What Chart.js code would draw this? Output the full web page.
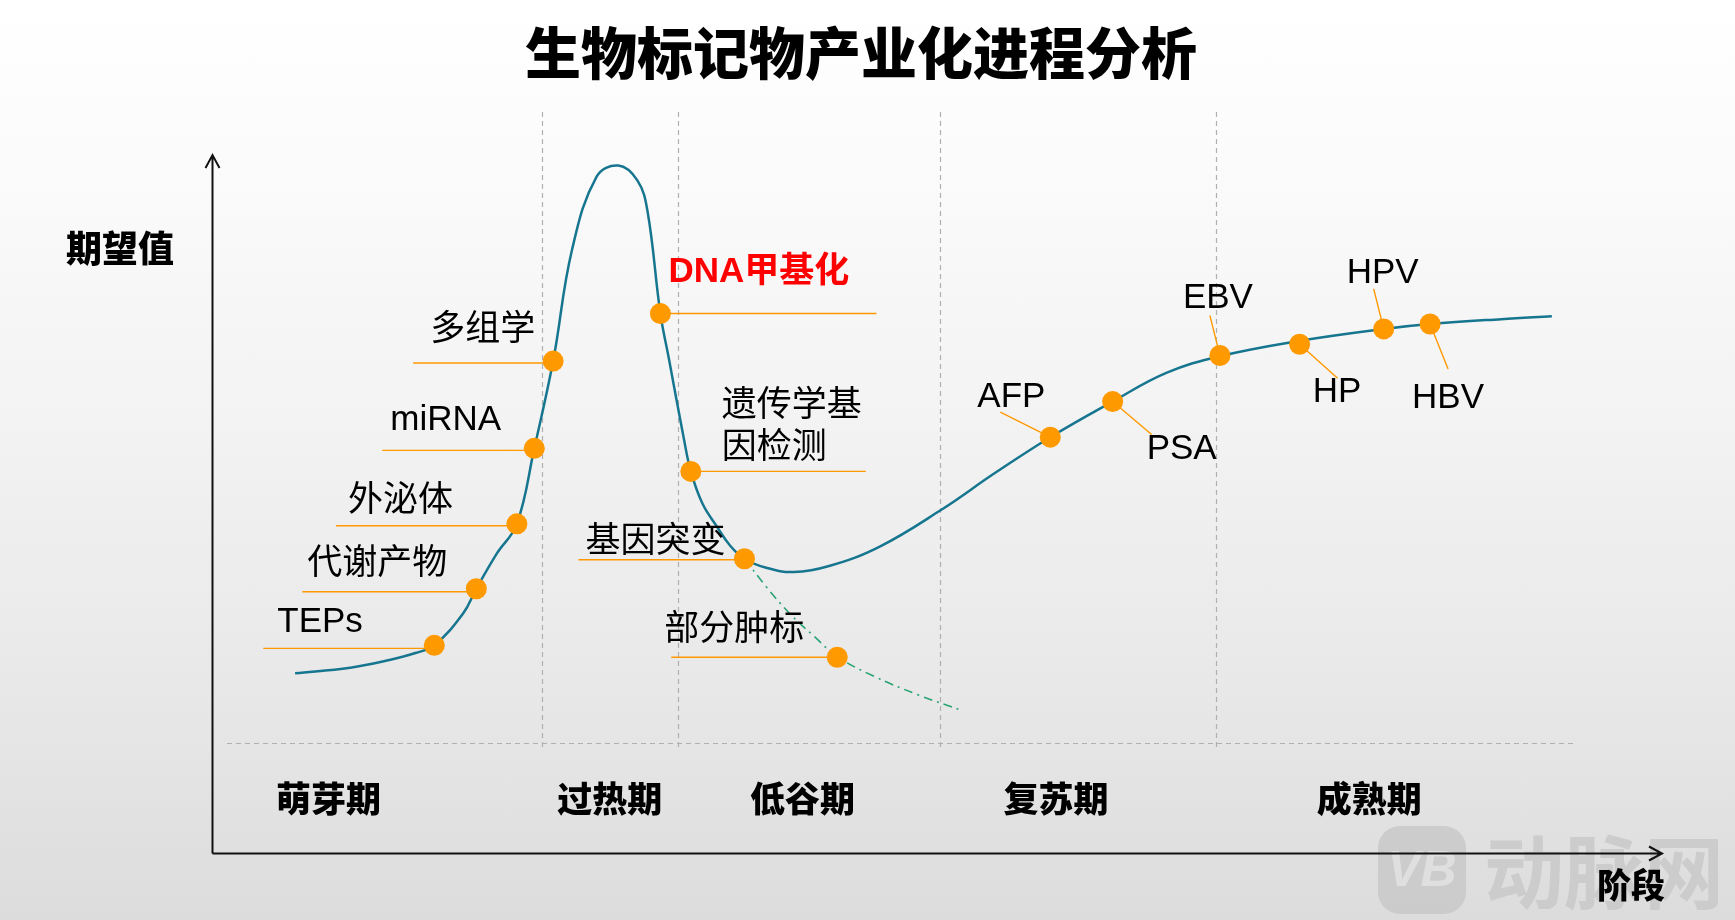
<!DOCTYPE html>
<html>
<head>
<meta charset="utf-8">
<script src="https://cdn.jsdelivr.net/npm/chart.js@4.4.1/dist/chart.umd.min.js"></script>
<style>
  html, body { margin: 0; padding: 0; overflow: hidden; }
  body {
    width: 1735px; height: 920px;
    background: linear-gradient(to bottom, #ffffff 0%, #fcfcfc 14%, #f3f3f3 45%, #e8e8e8 75%, #dcdcdc 100%);
  }
  canvas { display: block; }
</style>
</head>
<body>
<canvas id="hype" width="1735" height="920"></canvas>
<script>
// hype-cycle curve (x = stage progress, y = expectation)
const curveX = [5.7, 9.5, 12.2, 14.0, 15.3, 17.3, 18.2, 19.6, 21.0, 22.2, 23.5, 24.8, 26.5, 28.0,
  29.3, 30.0, 30.9, 31.5, 32.5, 33.0, 33.8, 34.8, 35.7, 36.7, 38.2, 40.1, 42.6, 46.0, 50.2, 54.0, 57.8,
  62.1, 65.8, 69.5, 75.0, 80.8, 84.0, 88.9, 92.4];
const curveY = [25.8, 26.6, 27.7, 28.7, 29.8, 34.4, 37.9, 42.9, 47.2, 58.0, 70.5, 86.4, 96.9, 98.5,
  96.4, 92.1, 77.3, 70.7, 59.6, 54.7, 50.1, 46.8, 44.1, 42.2, 40.9, 40.3, 41.2, 43.9, 49.1, 54.5, 59.6,
  64.7, 68.8, 71.2, 73.4, 75.1, 75.8, 76.5, 76.9];

// dash-dot branch falling away after 基因突变
const branchX = [36.7, 38.2, 39.8, 41.5, 43.1, 45.6, 48.7, 51.8];
const branchY = [42.2, 38.2, 34.4, 31.1, 28.2, 25.4, 22.7, 20.4];

// biomarkers on the curve
const markerNames = ["TEPs", "代谢产物", "外泌体", "miRNA", "多组学", "DNA甲基化", "遗传学基\n因检测", "基因突变",
  "部分肿标", "AFP", "PSA", "EBV", "HP", "HPV", "HBV"];
const markerX = [15.3, 18.2, 21.0, 22.2, 23.5, 30.9, 33.0, 36.7, 43.1, 57.8, 62.1, 69.5, 75.0, 80.8, 84.0];
const markerY = [29.8, 37.9, 47.2, 58.0, 70.5, 77.3, 54.7, 42.2, 28.1, 59.6, 64.7, 71.3, 72.9, 75.1, 75.8];

// stages
const phaseNames = ["萌芽期", "过热期", "低谷期", "复苏期", "成熟期"];
const phaseCenters = [8.0, 27.4, 40.7, 58.2, 79.8];
const phaseBounds = [22.7, 32.1, 50.2, 69.2];
const baselineY = 15.8;
const phaseLabelY = 7.9;

const chartTitle = "生物标记物产业化进程分析";
const yTitle = "期望值";
const xTitle = "阶段";

// label placement, px offsets from each marker: text anchor + leader line
const labelLayout = [
  { tx: -157, ty: -23, line: [-171, 3, 0, 3] },
  { tx: -169, ty: -24, line: [-174, 3, 0, 3] },
  { tx: -169, ty: -22, line: [-181, 2, 0, 2] },
  { tx: -144, ty: -28, line: [-152, 2, 0, 2] },
  { tx: -123, ty: -31, line: [-140, 2, 0, 2] },
  { tx: 8, ty: -41, line: [0, 0, 216, 0], hot: true },
  { tx: 31, ty: -65, line: [0, 0, 175, 0] },
  { tx: -159, ty: -16, line: [-166, 1, 0, 1] },
  { tx: -173, ty: -27, line: [-166, 0, 0, 0] },
  { tx: -73, ty: -40, line: [-50, -25, 0, 0] },
  { tx: 34, ty: 48, line: [0, 0, 39, 33] },
  { tx: -37, ty: -57, line: [-10, -40, 0, 0] },
  { tx: 13, ty: 48, line: [0, 0, 38, 34] },
  { tx: -37, ty: -56, line: [-10, -40, 0, 0] },
  { tx: -18, ty: 74, line: [0, 0, 18, 45] }
];

const ORANGE = "#ff9900";
const TEAL = "#17768f";
const LABEL_FONT = '35px "Liberation Sans", "Noto Sans CJK SC", sans-serif';
const BOLD_CJK = '"Noto Sans CJK SC", "Liberation Sans", sans-serif';
const BOLD_MIX = '"Liberation Sans", "Noto Sans CJK SC", sans-serif';

function toPoints(xs, ys) {
  return xs.map((x, i) => ({ x: x, y: ys[i] }));
}

const decorations = {
  id: "decorations",
  beforeDatasetsDraw(chart) {
    const ctx = chart.ctx;
    const area = chart.chartArea;
    const xs = chart.scales.x;
    const ys = chart.scales.y;
    const baseY = ys.getPixelForValue(baselineY);

    ctx.save();
    // watermark
    ctx.globalAlpha = 0.75;
    ctx.fillStyle = "#c6c6c6";
    ctx.beginPath();
    ctx.roundRect(1378, 826, 88, 88, 22);
    ctx.fill();
    ctx.fillStyle = "#e6e6e6";
    ctx.font = 'italic bold 50px "Liberation Sans", sans-serif';
    ctx.textAlign = "center";
    ctx.textBaseline = "middle";
    ctx.fillText("VB", 1422, 872);
    ctx.fillStyle = "#c6c6c6";
    ctx.font = "bold 80px " + BOLD_CJK;
    ctx.textAlign = "left";
    ctx.fillText("动脉网", 1484, 872);
    ctx.globalAlpha = 1;

    // stage dividers
    ctx.strokeStyle = "#b0b0b0";
    ctx.lineWidth = 1.2;
    ctx.setLineDash([5, 4]);
    phaseBounds.forEach((b) => {
      const px = Math.round(xs.getPixelForValue(b)) + 0.5;
      ctx.beginPath();
      ctx.moveTo(px, area.top - 43);
      ctx.lineTo(px, baseY + 6);
      ctx.stroke();
    });
    ctx.beginPath();
    ctx.moveTo(xs.getPixelForValue(1.0), Math.round(baseY) + 0.5);
    ctx.lineTo(xs.getPixelForValue(93.9), Math.round(baseY) + 0.5);
    ctx.stroke();
    ctx.setLineDash([]);

    // axes with open arrow heads
    ctx.strokeStyle = "#111";
    ctx.lineWidth = 2;
    ctx.beginPath();
    ctx.moveTo(area.left, area.bottom);
    ctx.lineTo(area.left, area.top);
    ctx.moveTo(area.left - 7, area.top + 13);
    ctx.lineTo(area.left, area.top);
    ctx.lineTo(area.left + 7, area.top + 13);
    ctx.moveTo(area.left, area.bottom);
    ctx.lineTo(area.right, area.bottom);
    ctx.moveTo(area.right - 13, area.bottom - 7);
    ctx.lineTo(area.right, area.bottom);
    ctx.lineTo(area.right - 13, area.bottom + 7);
    ctx.stroke();

    // leader lines
    ctx.strokeStyle = ORANGE;
    ctx.lineWidth = 1.4;
    markerX.forEach((mx, i) => {
      const px = xs.getPixelForValue(mx);
      const py = ys.getPixelForValue(markerY[i]);
      const l = labelLayout[i].line;
      ctx.beginPath();
      ctx.moveTo(px + l[0], py + l[1]);
      ctx.lineTo(px + l[2], py + l[3]);
      ctx.stroke();
    });
    ctx.restore();
  },
  afterDatasetsDraw(chart) {
    const ctx = chart.ctx;
    const xs = chart.scales.x;
    const ys = chart.scales.y;

    ctx.save();
    ctx.textBaseline = "middle";

    // marker labels
    markerNames.forEach((name, i) => {
      const lay = labelLayout[i];
      const px = xs.getPixelForValue(markerX[i]);
      const py = ys.getPixelForValue(markerY[i]);
      ctx.textAlign = "left";
      if (lay.hot) {
        ctx.fillStyle = "#ff0000";
        ctx.font = "bold 35px " + BOLD_MIX;
      } else {
        ctx.fillStyle = "#000";
        ctx.font = LABEL_FONT;
      }
      name.split("\n").forEach((line, k) => {
        ctx.fillText(line, px + lay.tx, py + lay.ty + k * 42);
      });
    });

    // stage names
    ctx.fillStyle = "#000";
    ctx.font = "900 35px " + BOLD_CJK;
    ctx.textAlign = "center";
    const labelPy = ys.getPixelForValue(phaseLabelY);
    phaseNames.forEach((p, i) => {
      ctx.fillText(p, xs.getPixelForValue(phaseCenters[i]), labelPy);
    });

    // titles
    ctx.font = "900 36px " + BOLD_CJK;
    ctx.fillText(yTitle, 120, 248);
    ctx.font = "900 34px " + BOLD_CJK;
    ctx.fillText(xTitle, 1631, 885);
    ctx.font = "900 56px " + BOLD_CJK;
    ctx.fillText(chartTitle, 861, 53);
    ctx.restore();
  }
};

new Chart(document.getElementById("hype"), {
  type: "scatter",
  data: {
    datasets: [
      {
        label: "markers",
        data: toPoints(markerX, markerY),
        pointRadius: 10.5,
        pointHoverRadius: 10.5,
        backgroundColor: ORANGE,
        borderWidth: 0,
        order: 0
      },
      {
        type: "line",
        label: "curve",
        data: toPoints(curveX, curveY),
        borderColor: TEAL,
        borderWidth: 2.5,
        pointRadius: 0,
        tension: 0.4,
        fill: false,
        order: 1
      },
      {
        type: "line",
        label: "branch",
        data: toPoints(branchX, branchY),
        borderColor: "#2aa373",
        borderWidth: 1.6,
        borderDash: [9, 5, 2, 5],
        pointRadius: 0,
        tension: 0.4,
        fill: false,
        order: 2
      }
    ]
  },
  options: {
    responsive: false,
    devicePixelRatio: 1,
    animation: false,
    layout: { padding: { left: 212.5, right: 73, top: 155, bottom: 66.5 } },
    scales: {
      x: { type: "linear", min: 0, max: 100, display: false },
      y: { type: "linear", min: 0, max: 100, display: false }
    },
    plugins: {
      legend: { display: false },
      tooltip: { enabled: false }
    }
  },
  plugins: [decorations]
});
</script>
</body>
</html>
